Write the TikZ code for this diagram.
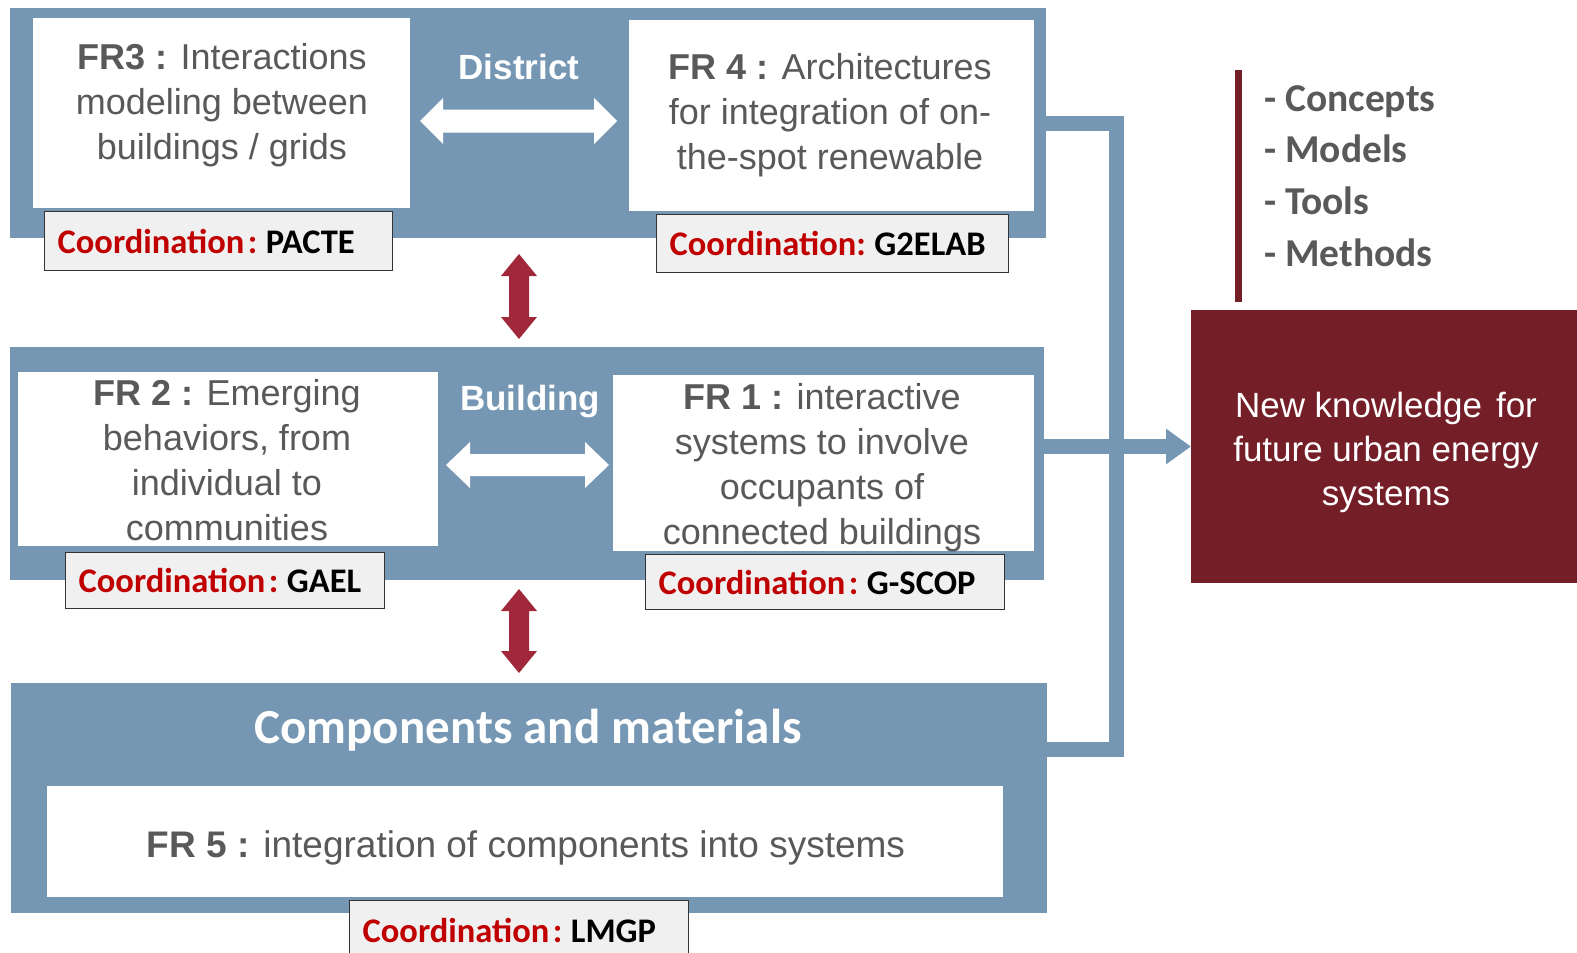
\documentclass[tikz,border=0pt]{standalone}
\usepackage{fontspec}
\setmainfont{Liberation Sans}
\newfontfamily\calib{Carlito}
\usetikzlibrary{arrows.meta}
\definecolor{panelblue}{HTML}{7597B3}
\definecolor{arrowred}{HTML}{A0283A}
\definecolor{darkred}{HTML}{741E28}
\definecolor{txtgray}{HTML}{595959}
\definecolor{coordred}{HTML}{C00000}
\definecolor{coordfill}{HTML}{F0F0F0}
\newcommand{\crd}[2]{\textcolor{coordred}{#1}\hspace{0.25em}\textcolor{black}{#2}}
\begin{document}
\begin{tikzpicture}[x=1pt,y=-1pt,
  panel/.style={fill=panelblue, draw=none, anchor=north west, inner sep=0pt, outer sep=0pt},
  whitebox/.style={fill=white, draw=none, anchor=north west, inner sep=0pt, outer sep=0pt},
  frtext/.style={font=\fontsize{36}{45}\selectfont, text=txtgray, align=center, anchor=north, inner sep=0pt},
  coordbox/.style={draw=black!80, line width=1.3pt, fill=coordfill, anchor=north west, inner xsep=13pt, inner ysep=0pt, align=left, font=\calib\bfseries\fontsize{34.5}{38}\selectfont},
  scalelabel/.style={font=\bfseries\fontsize{35}{40}\selectfont, text=white, inner sep=0pt},
  pipe/.style={draw=panelblue, line width=15pt, line join=miter},
  redarrow/.style={fill=arrowred, draw=none},
  whitearrow/.style={fill=white, draw=none}]
\clip (0,0) rectangle (1577,953);
\useasboundingbox (0,0) rectangle (1577,953);

% panels
\node[panel, minimum width=1036pt, minimum height=230pt] (district) at (10,8) {};
\node[panel, minimum width=1034pt, minimum height=233pt] (building) at (10,347) {};
\node[panel, minimum width=1036pt, minimum height=230pt] (comp) at (11,683) {};

% white boxes
\node[whitebox, minimum width=377pt, minimum height=190pt] (fr3) at (33,18) {};
\node[whitebox, minimum width=405pt, minimum height=191pt] (fr4) at (629,20) {};
\node[whitebox, minimum width=420pt, minimum height=174pt] (fr2) at (18,372) {};
\node[whitebox, minimum width=421pt, minimum height=176pt] (fr1) at (613,375) {};
\node[whitebox, minimum width=956pt, minimum height=111pt] (fr5) at (47,786) {};

% FR texts
\node[frtext] (fr3t) at (222,43) {\textbf{FR3 :} Interactions\\modeling between\\buildings / grids};
\node[frtext] (fr4t) at (830,53) {\textbf{FR 4 :} Architectures\\for integration of on-\\the-spot renewable};
\node[frtext] (fr2t) at (227,379) {\textbf{FR 2 :} Emerging\\behaviors, from\\individual to\\communities};
\node[frtext] (fr1t) at (822,383) {\textbf{FR 1 :} interactive\\systems to involve\\occupants of\\connected buildings};
\node[frtext, font=\fontsize{37}{45}\selectfont] (fr5t) at (526,830) {\textbf{FR 5 :} integration of components into systems};

% coordination boxes
\node[coordbox, minimum height=59pt, text width=322pt] (c3) at (44,211) {\crd{Coordination\hspace{0.1em}:}{PACTE}};
\node[coordbox, minimum height=58pt, text width=326pt] (c4) at (656,214) {\crd{Coordination:}{G2ELAB}};
\node[coordbox, minimum height=56pt, text width=293pt] (c2) at (65,552) {\crd{Coordination\hspace{0.1em}:}{GAEL}};
\node[coordbox, minimum height=55pt, text width=333pt] (c1) at (645,554) {\crd{Coordination\hspace{0.1em}:}{G-SCOP}};
\node[coordbox, minimum height=60pt, text width=313pt] (c5) at (349,900) {\crd{Coordination\hspace{0.1em}:}{LMGP}};

% scale labels
\node[scalelabel] (dlab) at (519,67) {District};
\node[scalelabel] (blab) at (530,402) {Building};
\node[font=\calib\bfseries\fontsize{49}{54}\selectfont, text=white, inner sep=0pt] (clab) at (528,730) {Components and materials};

% white double arrows
\fill[whitearrow] (420,121) -- (443,98) -- (443,109.5) -- (594,109.5) -- (594,98) -- (617,121) -- (594,144) -- (594,132.5) -- (443,132.5) -- (443,144) -- cycle;
\fill[whitearrow] (446,465) -- (470,442) -- (470,454) -- (585,454) -- (585,442) -- (609,465) -- (585,488) -- (585,476) -- (470,476) -- (470,488) -- cycle;

% red vertical double arrows
\fill[redarrow] (519,254) -- (537,276) -- (529,276) -- (529,317) -- (537,317) -- (519,339) -- (501,317) -- (509,317) -- (509,276) -- (501,276) -- cycle;
\fill[redarrow] (519,589) -- (537,611) -- (529,611) -- (529,651) -- (537,651) -- (519,673) -- (501,651) -- (509,651) -- (509,611) -- (501,611) -- cycle;

% knowledge box
\node[fill=darkred, anchor=north west, minimum width=390pt, minimum height=273pt, inner sep=0pt, outer sep=0pt] (know) at (1191,310) {};
\node[font=\fontsize{35}{44}\selectfont, text=white, align=center, anchor=north, inner sep=0pt] (knowt) at (1386,392) {New knowledge\hspace{0.4em}for\\future urban energy\\systems};

% connector pipe
\coordinate (bj) at (1116,749);
\draw[pipe] (district.east) -| (bj) -- (comp.east |- bj);
\draw[pipe, -{Triangle[length=25pt,width=34pt]}] (building.east |- know.west) -- (know.west);

% list
\draw[line width=7pt, darkred] (1238,70) -- (1238,302);
\node[anchor=north west, font=\calib\bfseries\fontsize{39.5}{51.7}\selectfont, text=txtgray, align=left, inner sep=0pt] (list) at (1264,85) {- Concepts\\- Models\\- Tools\\- Methods};
\end{tikzpicture}
\end{document}
